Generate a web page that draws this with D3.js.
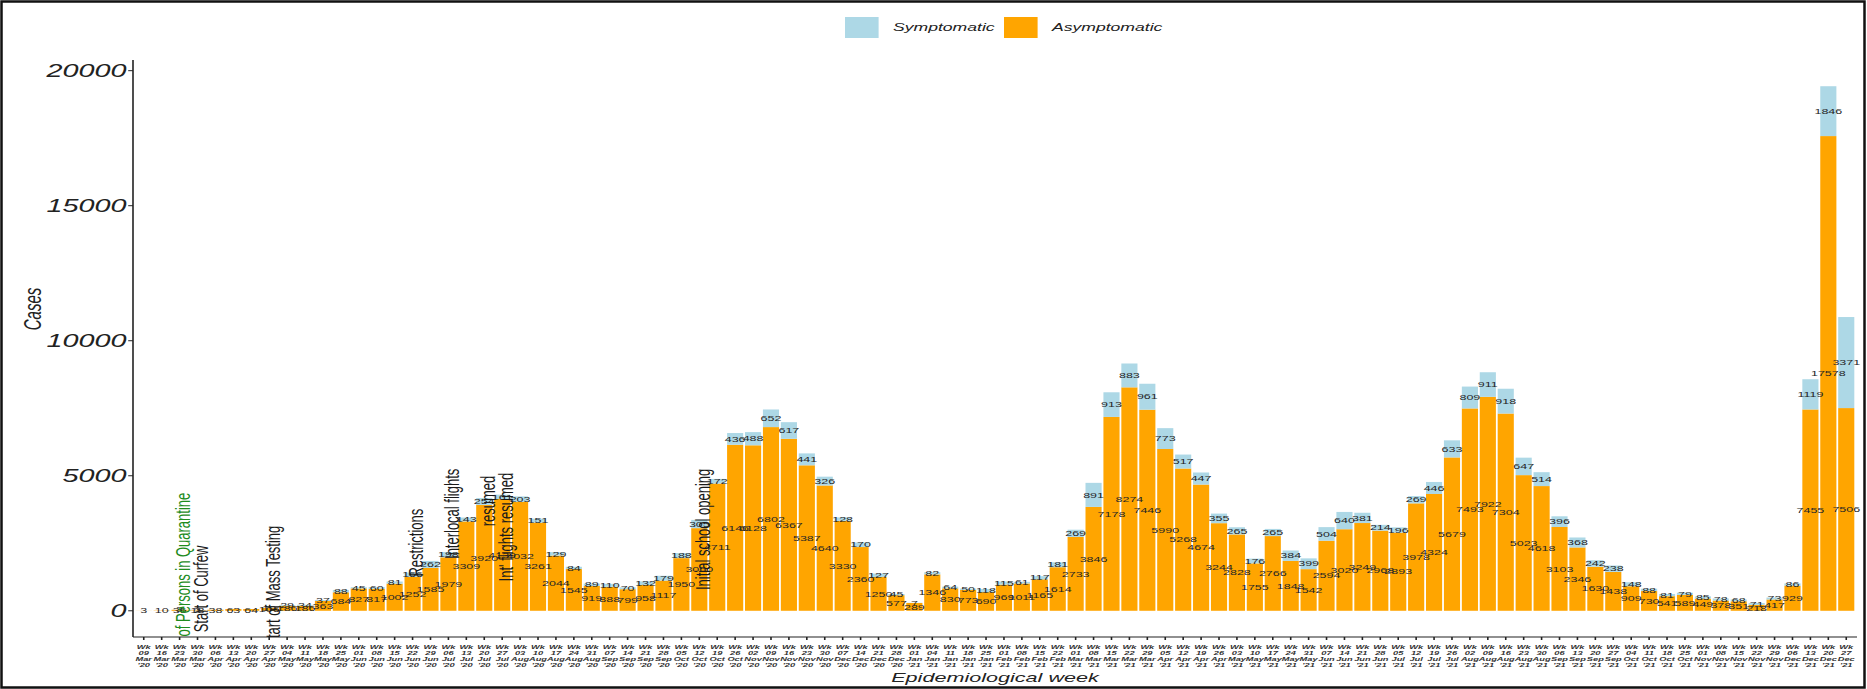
<!DOCTYPE html>
<html><head><meta charset="utf-8">
<script src="https://cdn.jsdelivr.net/npm/d3@7"></script>
<style>body{margin:0;background:#fff}svg{display:block}</style>
</head><body>
<svg id="c" width="1867" height="689"></svg>
<script>
const weeks = ["Wk 09 Mar '20","Wk 16 Mar '20","Wk 23 Mar '20","Wk 30 Mar '20","Wk 06 Apr '20","Wk 13 Apr '20","Wk 20 Apr '20","Wk 27 Apr '20","Wk 04 May '20","Wk 11 May '20","Wk 18 May '20","Wk 25 May '20","Wk 01 Jun '20","Wk 08 Jun '20","Wk 15 Jun '20","Wk 22 Jun '20","Wk 29 Jun '20","Wk 06 Jul '20","Wk 13 Jul '20","Wk 20 Jul '20","Wk 27 Jul '20","Wk 03 Aug '20","Wk 10 Aug '20","Wk 17 Aug '20","Wk 24 Aug '20","Wk 31 Aug '20","Wk 07 Sep '20","Wk 14 Sep '20","Wk 21 Sep '20","Wk 28 Sep '20","Wk 05 Oct '20","Wk 12 Oct '20","Wk 19 Oct '20","Wk 26 Oct '20","Wk 02 Nov '20","Wk 09 Nov '20","Wk 16 Nov '20","Wk 23 Nov '20","Wk 30 Nov '20","Wk 07 Dec '20","Wk 14 Dec '20","Wk 21 Dec '20","Wk 28 Dec '20","Wk 01 Jan '21","Wk 04 Jan '21","Wk 11 Jan '21","Wk 18 Jan '21","Wk 25 Jan '21","Wk 01 Feb '21","Wk 08 Feb '21","Wk 15 Feb '21","Wk 22 Feb '21","Wk 01 Mar '21","Wk 08 Mar '21","Wk 15 Mar '21","Wk 22 Mar '21","Wk 29 Mar '21","Wk 05 Apr '21","Wk 12 Apr '21","Wk 19 Apr '21","Wk 26 Apr '21","Wk 03 May '21","Wk 10 May '21","Wk 17 May '21","Wk 24 May '21","Wk 31 May '21","Wk 07 Jun '21","Wk 14 Jun '21","Wk 21 Jun '21","Wk 28 Jun '21","Wk 05 Jul '21","Wk 12 Jul '21","Wk 19 Jul '21","Wk 26 Jul '21","Wk 02 Aug '21","Wk 09 Aug '21","Wk 16 Aug '21","Wk 23 Aug '21","Wk 30 Aug '21","Wk 06 Sep '21","Wk 13 Sep '21","Wk 20 Sep '21","Wk 27 Sep '21","Wk 04 Oct '21","Wk 11 Oct '21","Wk 18 Oct '21","Wk 25 Oct '21","Wk 01 Nov '21","Wk 08 Nov '21","Wk 15 Nov '21","Wk 22 Nov '21","Wk 29 Nov '21","Wk 06 Dec '21","Wk 13 Dec '21","Wk 20 Dec '21","Wk 27 Dec '21"];

const asymptomatic = [3,10,36,18,38,63,64,106,186,186,363,684,827,817,1002,1252,1585,1979,3309,3920,4139,4032,3261,2044,1545,919,888,799,958,1117,1950,3060,4711,6146,6128,6802,6367,5387,4640,3330,2360,1250,577,
289,
1346,830,773,690,969,1011,1165,1614,2733,3846,7178,8274,7446,5990,5268,4674,3244,2828,1755,2766,1848,1542,2594,3020,3249,2968,2893,3978,4324,5679,7493,7922,7304,5023,4618,3103,2346,1630,1438,909,730,541,589,449,378,351,218,417,929,7455,17578,7506];

const symptomatic = [0,0,3,2,0,0,0,10,29,34,37,88,45,60,81,166,262,198,143,254,161,203,151,129,84,89,110,70,132,179,188,305,172,436,488,652,617,441,326,128,170,127,45,
7,
82,64,50,118,115,61,117,181,269,891,913,883,961,773,517,447,355,265,176,265,384,399,504,640,381,214,196,269,446,633,809,911,918,647,514,396,368,242,238,148,88,81,79,85,78,68,71,73,86,1119,1846,3371];

const yTicks = [0,5000,10000,15000,20000];
const seriesNames = ["Symptomatic","Asymptomatic"];

const eventWeeks  = ["Wk 23 Mar '20","Wk 30 Mar '20","Wk 27 Apr '20","Wk 22 Jun '20","Wk 06 Jul '20","Wk 20 Jul '20","Wk 27 Jul '20","Wk 12 Oct '20"];
const eventLabels = ["Isolation of Persons in Quarantine","Start of Curfew","Start of Mass Testing","Restrictions","Interlocal flights","resumed","Int' flights resumed","Initial school opening"];
const eventTops   = [4370,2410,3150,3780,5260,5000,5110,5260];

const SX = 1.6;               // horizontal stretch of the original picture
const svg = d3.select("#c");
svg.append("rect").attr("width",1867).attr("height",689).attr("fill","#fff");
const g = svg.append("g").attr("transform",`scale(${SX},1)`);

const pL = 133/SX, pR = 1857/SX, pT = 60, pB = 637;
const x = d3.scaleBand().domain(weeks).range([pL,pR]).paddingInner(0.1).paddingOuter(0.15);
const y = d3.scaleLinear().domain([-971,20395]).range([pB,pT]);

const colSym = "#ADD8E6", colAsym = "#FFA500";
const FONT = "Liberation Sans, Arial, sans-serif";

const data = weeks.map((w,i)=>({w,a:asymptomatic[i],s:symptomatic[i]}));

// bars
g.append("g").selectAll("rect").data(data).join("rect")
  .attr("x",d=>x(d.w)).attr("width",x.bandwidth())
  .attr("y",d=>y(d.a)).attr("height",d=>y(0)-y(d.a)).attr("fill",colAsym);
g.append("g").selectAll("rect").data(data.filter(d=>d.s>0)).join("rect")
  .attr("x",d=>x(d.w)).attr("width",x.bandwidth())
  .attr("y",d=>y(d.a+d.s)).attr("height",d=>y(d.a)-y(d.a+d.s)).attr("fill",colSym);

// value labels
const lab = g.append("g").attr("font-family",FONT).attr("font-size",7.8).attr("fill","#262626").attr("text-anchor","middle");
lab.selectAll("text.a").data(data).join("text").attr("class","a")
  .attr("x",d=>x(d.w)+x.bandwidth()/2).attr("y",d=>y(d.a/2)).attr("dy","0.35em").text(d=>d.a);
lab.selectAll("text.s").data(data.filter(d=>d.s>0)).join("text").attr("class","s")
  .attr("x",d=>x(d.w)+x.bandwidth()/2).attr("y",d=>y(d.a+d.s/2)).attr("dy","0.35em").text(d=>d.s);

// annotations
svg.append("defs").append("clipPath").attr("id","pc").append("rect")
  .attr("x",pL).attr("y",pT).attr("width",pR-pL).attr("height",pB-pT);
const ann = g.append("g").attr("clip-path","url(#pc)").attr("font-family",FONT).attr("font-size",13);
eventWeeks.forEach((w,i)=>{
  ann.append("text")
    .attr("transform",`translate(${x(w)+x.bandwidth()/2+2},${y(eventTops[i])}) rotate(-90)`)
    .attr("text-anchor","end").attr("dy","0.35em")
    .attr("fill", i===0 ? "#1e8c1e" : "#1a1a1a")
    .text(eventLabels[i]);
});

// axes
const ax = g.append("g").attr("stroke","#222").attr("stroke-width",1);
ax.append("line").attr("x1",pL).attr("x2",pL).attr("y1",pT).attr("y2",pB);
ax.append("line").attr("x1",pL).attr("x2",pR).attr("y1",pB).attr("y2",pB);
ax.selectAll("line.yt").data(yTicks).join("line").attr("class","yt")
  .attr("x1",pL-3).attr("x2",pL).attr("y1",d=>y(d)).attr("y2",d=>y(d));
ax.selectAll("line.xt").data(weeks).join("line").attr("class","xt")
  .attr("x1",d=>x(d)+x.bandwidth()/2).attr("x2",d=>x(d)+x.bandwidth()/2).attr("y1",pB).attr("y2",pB+3);

g.append("g").attr("font-family",FONT).attr("font-style","italic").attr("font-size",18).attr("fill","#222")
  .attr("text-anchor","end")
  .selectAll("text").data(yTicks).join("text")
  .attr("x",pL-4).attr("y",d=>y(d)).attr("dy","0.35em").text(d=>d);

const xl = g.append("g").attr("font-family",FONT).attr("font-style","italic").attr("font-weight","bold").attr("font-size",5.8).attr("fill","#333").attr("text-anchor","middle");
weeks.forEach(w=>{
  const parts = w.split(" ");
  const t = xl.append("text");
  parts.forEach((p,k)=>t.append("tspan").attr("x",x(w)+x.bandwidth()/2).attr("y",649+k*6).text(p));
});

// axis titles
g.append("text").attr("x",(pL+pR)/2).attr("y",682).attr("text-anchor","middle")
  .attr("font-family",FONT).attr("font-style","italic").attr("font-size",13.5).attr("fill","#222")
  .text("Epidemiological week");
g.append("text").attr("transform",`translate(${33/SX},309) rotate(-90)`).attr("text-anchor","middle").attr("dy","0.35em")
  .attr("font-family",FONT).attr("font-style","italic").attr("font-size",15).attr("fill","#222")
  .text("Cases");

// legend
const lg = g.append("g").attr("font-family",FONT).attr("font-style","italic").attr("font-size",11).attr("fill","#222");
const legCols = [colSym,colAsym];
const legX = [845/SX, 1004/SX];
seriesNames.forEach((n,i)=>{
  lg.append("rect").attr("x",legX[i]).attr("y",17).attr("width",21).attr("height",21).attr("fill",legCols[i]);
  lg.append("text").attr("x",legX[i]+30).attr("y",27.5).attr("dy","0.35em").text(n);
});

// outer frame
svg.append("rect").attr("x",1.5).attr("y",1.5).attr("width",1863).attr("height",686).attr("fill","none").attr("stroke","#111").attr("stroke-width",2.5);
</script>
</body></html>
